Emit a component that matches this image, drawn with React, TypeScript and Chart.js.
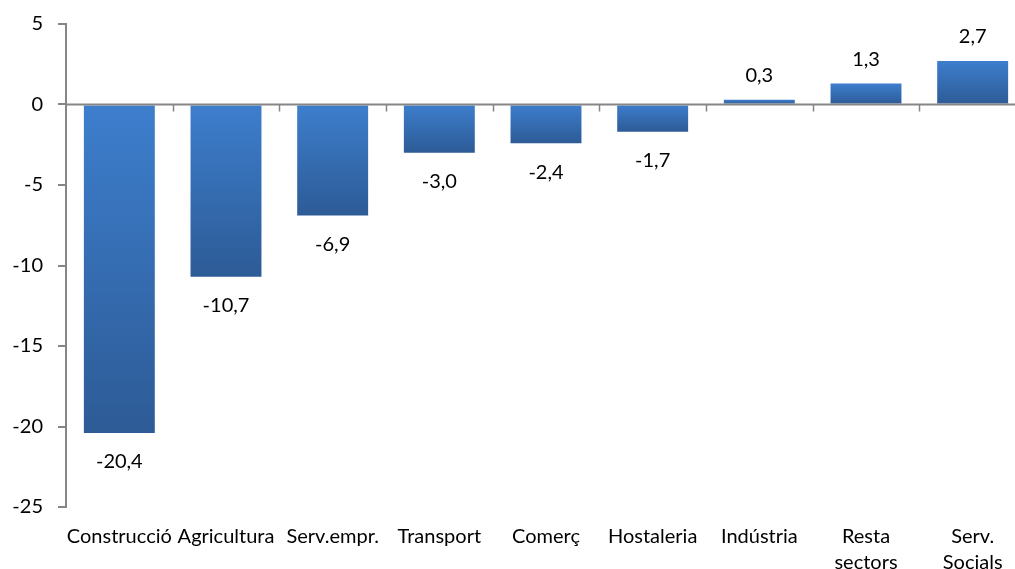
import React, { useEffect, useRef } from "react";
import { Chart, registerables } from "chart.js";

Chart.register(...registerables);

const categories: (string | string[])[] = [
  "Construcció",
  "Agricultura",
  "Serv.empr.",
  "Transport",
  "Comerç",
  "Hostaleria",
  "Indústria",
  ["Resta", "sectors"],
  ["Serv.", "Socials"],
];
const values: number[] = [-20.4, -10.7, -6.9, -3.0, -2.4, -1.7, 0.3, 1.3, 2.7];
const yMin = -25;
const yMax = 5;
const yStep = 5;

const FONT = "Lato, 'Open Sans', sans-serif";
const AXIS_GRAY = "#868686";

const fmt = (v: number) => v.toFixed(1).replace(".", ",");

const overlayPlugin = {
  id: "overlay",
  afterDatasetsDraw(chart: any) {
    const { ctx, chartArea, scales } = chart;
    const y = scales.y;
    const zeroY = y.getPixelForValue(0);
    ctx.save();
    ctx.strokeStyle = AXIS_GRAY;
    ctx.lineWidth = 2;
    ctx.beginPath();
    ctx.moveTo(chartArea.left, zeroY);
    ctx.lineTo(chartArea.right, zeroY);
    ctx.stroke();
    const n = categories.length;
    const w = (chartArea.right - chartArea.left) / n;
    ctx.lineWidth = 1.5;
    for (let i = 1; i <= n; i++) {
      const px = Math.round(chartArea.left + i * w) + 0.5;
      ctx.beginPath();
      ctx.moveTo(px, zeroY);
      ctx.lineTo(px, zeroY + 7);
      ctx.stroke();
    }
    const meta = chart.getDatasetMeta(0);
    ctx.fillStyle = "#000";
    ctx.font = `20px ${FONT}`;
    ctx.textAlign = "center";
    ctx.textBaseline = "middle";
    meta.data.forEach((bar: any, i: number) => {
      const v = values[i];
      const ly = v < 0 ? bar.y + 29 : bar.y - 24;
      ctx.fillText(fmt(v), bar.x, ly);
    });
    ctx.restore();
  },
};

export default function App() {
  const ref = useRef<HTMLCanvasElement | null>(null);
  useEffect(() => {
    if (!ref.current) return;
    const chart = new Chart(ref.current, {
      type: "bar",
      data: {
        labels: categories as any,
        datasets: [
          {
            data: values,
            backgroundColor: (c: any) => {
              const ch = c.chart;
              const ys = ch.scales?.y;
              if (!ys || c.dataIndex === undefined) return "#3a74bf";
              const v = values[c.dataIndex];
              const a = ys.getPixelForValue(Math.max(v, 0));
              const b = ys.getPixelForValue(Math.min(v, 0));
              if (!isFinite(a) || !isFinite(b) || a === b) return "#3a74bf";
              const g = ch.ctx.createLinearGradient(0, a, 0, b);
              g.addColorStop(0, "#3d7ecd");
              g.addColorStop(1, "#2d5b96");
              return g;
            },
            borderWidth: 0,
            categoryPercentage: 1,
            barPercentage: 0.665,
          },
        ],
      },
      options: {
        responsive: false,
        animation: false,
        devicePixelRatio: 1,
        layout: { padding: { top: 0, right: 14, left: 0, bottom: 0 } },
        plugins: {
          legend: { display: false },
          tooltip: { enabled: false },
        },
        scales: {
          x: {
            grid: { display: false },
            border: { display: false },
            ticks: {
              color: "#000",
              font: { family: FONT, size: 20, lineHeight: 1.32 },
              padding: 8,
              maxRotation: 0,
              autoSkip: false,
            },
            afterFit: (s: any) => {
              s.height = 62;
            },
          },
          y: {
            min: yMin,
            max: yMax,
            grid: {
              drawOnChartArea: false,
              drawTicks: true,
              tickLength: 8,
              tickColor: AXIS_GRAY,
              lineWidth: 2,
            },
            border: { display: true, color: AXIS_GRAY, width: 2 },
            ticks: {
              stepSize: yStep,
              color: "#000",
              font: { family: FONT, size: 20, lineHeight: 1.2 },
              padding: 15,
              callback: (v: any) => String(v),
            },
            afterFit: (s: any) => {
              s.width = 66;
            },
          },
        },
      },
      plugins: [overlayPlugin],
    });
    return () => chart.destroy();
  }, []);
  return (
    <div
      style={{
        position: "fixed",
        left: 0,
        top: 0,
        width: 1015,
        height: 569,
        overflow: "hidden",
        background: "#fff",
      }}
    >
      <canvas
        ref={ref}
        width={1040}
        height={572}
        style={{ width: 1040, height: 572, display: "block", marginTop: -3 }}
      />
    </div>
  );
}
